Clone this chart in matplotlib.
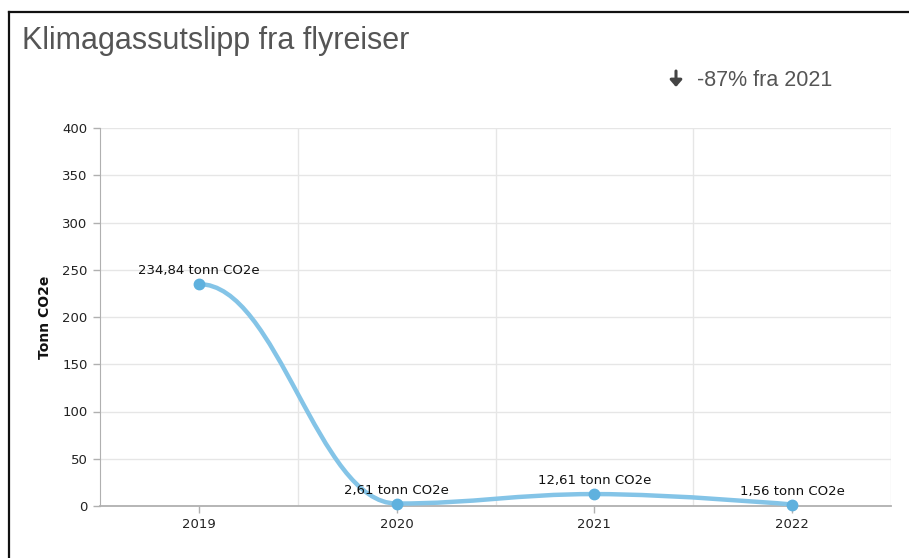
import matplotlib.pyplot as plt
from matplotlib.lines import Line2D
from matplotlib.patches import FancyArrowPatch, PathPatch
from matplotlib.path import Path

years = ["2019", "2020", "2021", "2022"]
emissions = [234.84, 2.61, 12.61, 1.56]
labels = ["234,84 tonn CO2e", "2,61 tonn CO2e", "12,61 tonn CO2e", "1,56 tonn CO2e"]
y_ticks = [0, 50, 100, 150, 200, 250, 300, 350, 400]

LINE = "#84c4e7"
MARKER = "#5fb1de"
GRID = "#e6e6e6"
AXIS = "#b0b0b0"


def spline_path(xs, ys, smoothing=1.5):
    # Bezier-kurve i samme stil som en Highcharts "spline"
    denom = smoothing + 1
    n = len(xs)
    left = [None] * n
    right = [None] * n
    for i in range(1, n - 1):
        lx, ly = xs[i - 1], ys[i - 1]
        px, py = xs[i], ys[i]
        nx, ny = xs[i + 1], ys[i + 1]
        lcx = (smoothing * px + lx) / denom
        lcy = (smoothing * py + ly) / denom
        rcx = (smoothing * px + nx) / denom
        rcy = (smoothing * py + ny) / denom
        corr = (rcy - lcy) * (rcx - px) / (rcx - lcx) + py - rcy
        lcy += corr
        rcy += corr
        if lcy > ly and lcy > py:
            lcy = max(ly, py)
            rcy = 2 * py - lcy
        elif lcy < ly and lcy < py:
            lcy = min(ly, py)
            rcy = 2 * py - lcy
        if rcy > ny and rcy > py:
            rcy = max(ny, py)
            lcy = 2 * py - rcy
        elif rcy < ny and rcy < py:
            rcy = min(ny, py)
            lcy = 2 * py - rcy
        left[i] = (lcx, lcy)
        right[i] = (rcx, rcy)
    # første punkt starter vannrett
    right[0] = (xs[0] + (xs[1] - xs[0]) / denom, ys[0])
    verts = [(xs[0], ys[0])]
    codes = [Path.MOVETO]
    for i in range(1, n):
        c1 = right[i - 1] or (xs[i - 1], ys[i - 1])
        c2 = left[i] or (xs[i], ys[i])
        verts += [c1, c2, (xs[i], ys[i])]
        codes += [Path.CURVE4] * 3
    return Path(verts, codes)


fig = plt.figure(figsize=(9.09, 5.58), dpi=100)
ax = fig.add_axes([100 / 909, 1 - 506 / 558, 791 / 909, 378 / 558])

x = list(range(len(years)))
ax.set_xlim(-0.5, len(years) - 0.5)
ax.set_ylim(0, 400)

# rutenett
for v in y_ticks[1:]:
    ax.axhline(v, color=GRID, lw=1, zorder=0)
for b in [0.5, 1.5, 2.5, 3.5]:
    ax.axvline(b, color=GRID, lw=1, zorder=0)

ax.add_patch(PathPatch(spline_path(x, emissions), facecolor="none",
                       edgecolor=LINE, lw=3.2, capstyle="round", zorder=3))
ax.plot(x, emissions, "o", color=MARKER, ms=7.5, zorder=4, clip_on=False)

for xi, yi, lab in zip(x, emissions, labels):
    ax.annotate(lab, (xi, yi), xytext=(0, 5), textcoords="offset points",
                ha="center", va="bottom", fontsize=9.5, color="#111111", zorder=5)

ax.set_xticks(x)
ax.set_xticklabels(years)
ax.set_yticks(y_ticks)
ax.tick_params(axis="both", colors=AXIS, labelcolor="#222222", labelsize=9.5,
               length=5, width=1)
ax.tick_params(axis="x", pad=4)
ax.tick_params(axis="y", pad=4)

for side in ["top", "right"]:
    ax.spines[side].set_visible(False)
ax.spines["left"].set_color(AXIS)
ax.spines["bottom"].set_color(AXIS)
ax.spines["bottom"].set_linewidth(1.3)

ax.set_ylabel("Tonn CO2e", fontsize=10, fontweight="bold", color="#111111", labelpad=7)

fig.text(22 / 909, 1 - 41 / 558, "Klimagassutslipp fra flyreiser", fontsize=22,
         family="Liberation Sans", color="#555555", va="center", ha="left")
fig.text(697 / 909, 1 - 80 / 558, "-87% fra 2021", fontsize=15.5,
         family="Liberation Sans", color="#555555", va="center", ha="left")
fig.add_artist(FancyArrowPatch((676 / 909, 1 - 71 / 558), (676 / 909, 1 - 87 / 558),
                               transform=fig.transFigure, arrowstyle="-|>,head_length=4,head_width=3.5",
                               lw=2.2, color="#444444", shrinkA=0, shrinkB=0))

# ramme oppe og til venstre
fig.add_artist(Line2D([8.5 / 909, 1], [1 - 11.5 / 558] * 2, color="#111111", lw=1.6))
fig.add_artist(Line2D([8.5 / 909] * 2, [0, 1 - 11.5 / 558], color="#111111", lw=1.6))

fig.savefig("out.png", dpi=100)
